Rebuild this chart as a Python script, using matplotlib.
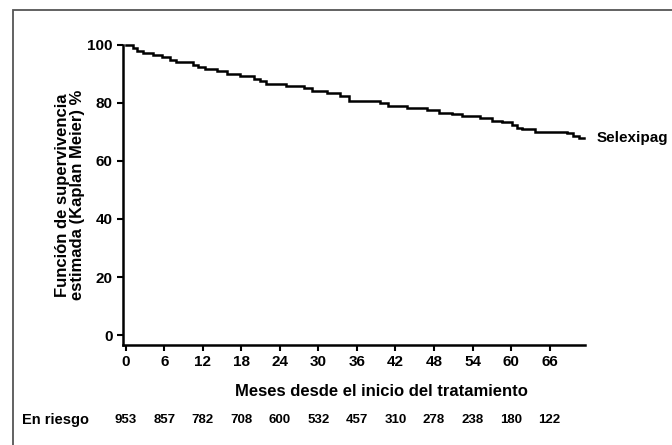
import matplotlib
matplotlib.use("Agg")
import matplotlib.pyplot as plt
from matplotlib.patches import Rectangle

# Kaplan-Meier estimate for selexipag (months, survival %)
months = [0, 1.2, 1.7, 2.7, 4.3, 5.6, 6.9, 7.9, 10.5, 11.3, 12.4, 14.2, 15.7,
          17.8, 19.9, 20.9, 21.9, 25.0, 27.7, 29.0, 31.3, 33.4, 34.7, 39.6,
          40.9, 43.8, 46.9, 48.7, 50.8, 52.3, 55.1, 57.0, 58.6, 60.1, 60.9,
          61.7, 63.7, 68.7, 69.7, 70.5, 71.4]
survival = [100, 99.0, 97.8, 97.2, 96.7, 95.8, 94.9, 94.1, 93.2, 92.3, 91.7,
            90.9, 90.0, 89.2, 88.4, 87.5, 86.7, 85.9, 85.1, 84.3, 83.6, 82.4,
            80.8, 79.9, 79.0, 78.4, 77.6, 76.7, 76.1, 75.6, 74.7, 73.9, 73.3,
            72.4, 71.5, 70.9, 70.1, 69.5, 68.6, 68.0, 68.0]

x_ticks = [0, 6, 12, 18, 24, 30, 36, 42, 48, 54, 60, 66]
y_ticks = [0, 20, 40, 60, 80, 100]
at_risk = [953, 857, 782, 708, 600, 532, 457, 310, 278, 238, 180, 122]
series_name = "Selexipag"

plt.rcParams["font.family"] = ["Liberation Sans", "DejaVu Sans"]
plt.rcParams["font.weight"] = "bold"

fig = plt.figure(figsize=(6.72, 4.45), dpi=100)
ax = fig.add_axes([0.1823, 0.2247, 0.8705 - 0.1823, 0.8989 - 0.2247])

ax.plot(months, survival, drawstyle="steps-post", color="black", lw=1.8,
        solid_joinstyle="miter", clip_on=False)

ax.set_xlim(-0.5, 71.5)
ax.set_ylim(-3.45, 100)
ax.set_xticks(x_ticks)
ax.set_yticks(y_ticks)
ax.set_xticklabels([str(v) for v in x_ticks], fontsize=11, fontweight="bold")
ax.set_yticklabels([str(v) for v in y_ticks], fontsize=11, fontweight="bold")
ax.tick_params(direction="out", length=4, width=1.5, pad=3, colors="black")

for side in ("top", "right"):
    ax.spines[side].set_visible(False)
for side in ("left", "bottom"):
    ax.spines[side].set_linewidth(1.8)

ax.spines["left"].set_bounds(-3.45, 100)

# Axis titles
fig.text(381 / 672, 1 - 392 / 445, "Meses desde el inicio del tratamiento",
         ha="center", va="center", fontsize=12, fontweight="bold")
fig.text(70 / 672, 1 - 195 / 445,
         "Función de supervivencia\nestimada (Kaplan Meier) %",
         ha="center", va="center", rotation=90, fontsize=12,
         fontweight="bold", linespacing=0.95)

# Curve label
ax.annotate(series_name, xy=(months[-1], survival[-1]), xytext=(8.5, 0),
            textcoords="offset points", ha="left", va="center",
            fontsize=11, fontweight="bold", annotation_clip=False)

# Numbers at risk
y_risk = 1 - 420 / 445
fig.text(22 / 672, y_risk, "En riesgo", ha="left", va="center",
         fontsize=10.5, fontweight="bold")
trans = matplotlib.transforms.blended_transform_factory(ax.transData,
                                                        fig.transFigure)
for m, n in zip(x_ticks, at_risk):
    fig.text(m, y_risk, str(n), transform=trans, ha="center", va="center",
             fontsize=9.5, fontweight="bold")

# Frame around the figure
fig.patches.append(Rectangle((13 / 672, -0.05), 1.1, 1 - 10 / 445 + 0.05,
                             transform=fig.transFigure, fill=False,
                             edgecolor="#555555", lw=1.3, clip_on=False))

fig.savefig("out.png", dpi=100)
